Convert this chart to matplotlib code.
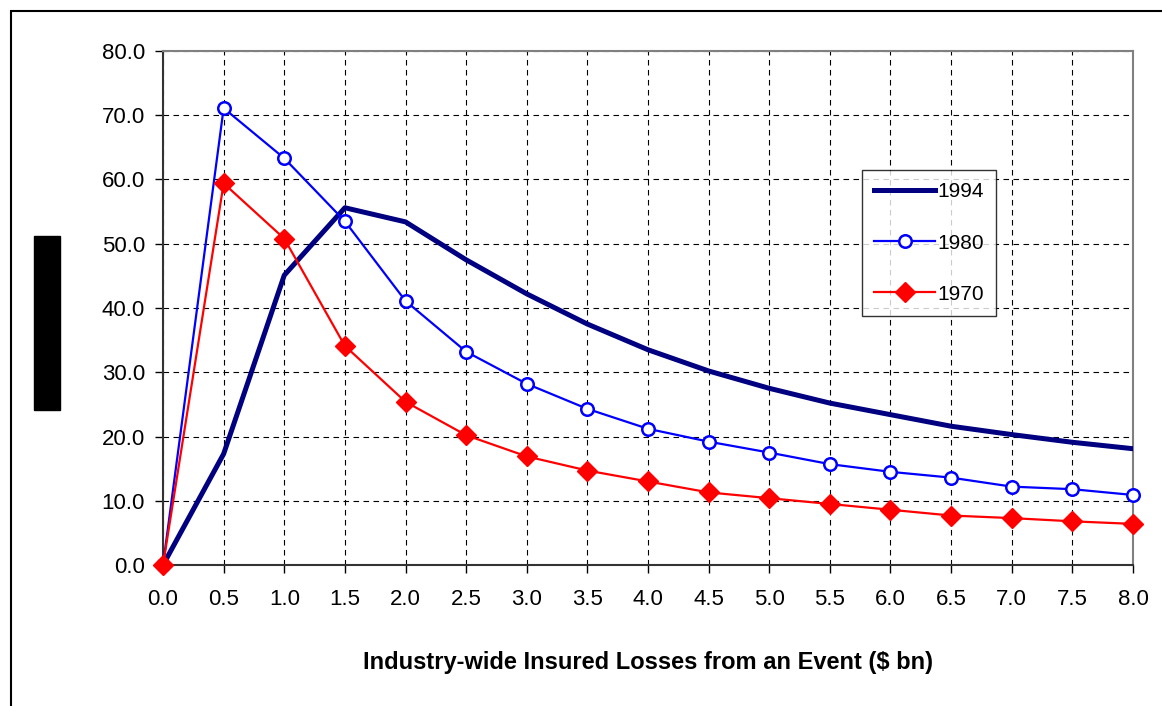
import matplotlib.pyplot as plt
from matplotlib.patches import Rectangle

# data
losses = [0.0, 0.5, 1.0, 1.5, 2.0, 2.5, 3.0, 3.5, 4.0, 4.5, 5.0, 5.5, 6.0, 6.5, 7.0, 7.5, 8.0]
y1994 = [0.0, 17.3, 45.1, 55.6, 53.4, 47.5, 42.2, 37.5, 33.5, 30.2, 27.5, 25.2, 23.4, 21.6, 20.3, 19.1, 18.1]
y1980 = [0.0, 71.1, 63.3, 53.5, 41.1, 33.2, 28.2, 24.3, 21.2, 19.2, 17.5, 15.7, 14.5, 13.6, 12.2, 11.8, 10.9]
y1970 = [0.0, 59.4, 50.8, 34.1, 25.4, 20.2, 16.9, 14.7, 13.0, 11.3, 10.4, 9.5, 8.6, 7.7, 7.3, 6.8, 6.4]
xticks = losses
yticks = [0, 10, 20, 30, 40, 50, 60, 70, 80]

plt.rcParams['font.family'] = ['Liberation Sans', 'DejaVu Sans']

fig = plt.figure(figsize=(11.62, 7.06), dpi=100)
ax = fig.add_axes([0.1403, 0.1997, 0.8347, 0.7281])

ax.plot(losses, y1994, color='#000080', lw=3.6, label='1994', zorder=3)
ax.plot(losses, y1980, color='#0000ff', lw=1.6, marker='o', ms=9,
        mfc='white', mec='#0000ff', mew=1.8, label='1980', zorder=4, clip_on=False)
ax.plot(losses, y1970, color='#ff0000', lw=1.6, marker='D', ms=10,
        mfc='#ff0000', mec='#ff0000', label='1970', zorder=5, clip_on=False)

ax.set_xlim(0, 8)
ax.set_ylim(0, 80)
ax.set_xticks(xticks)
ax.set_xticklabels(['%.1f' % v for v in xticks])
ax.set_yticks(yticks)
ax.set_yticklabels(['%.1f' % v for v in yticks])
ax.tick_params(direction='out', length=6, width=1, labelsize=16, colors='black')
ax.tick_params(axis='x', pad=11)
ax.tick_params(axis='y', pad=7)
ax.grid(True, color='black', ls=(0, (5, 4)), lw=0.8)
ax.set_axisbelow(True)

for s in ['top', 'right']:
    ax.spines[s].set_color('#808080')
    ax.spines[s].set_linewidth(1.5)
for s in ['left', 'bottom']:
    ax.spines[s].set_color('#333333')
    ax.spines[s].set_linewidth(1.5)

ax.set_xlabel('Industry-wide Insured Losses from an Event ($ bn)',
              fontsize=17, fontweight='bold', labelpad=30)

leg = ax.legend(loc='upper left', bbox_to_anchor=(0.7206, 0.7685), fontsize=15,
                frameon=True, fancybox=False, edgecolor='black', handlelength=2.9,
                labelspacing=1.54, borderpad=0.6, handletextpad=0.1,
                borderaxespad=0)
leg.get_frame().set_linewidth(1.0)

# outer border and redacted label block
fig.patches.append(Rectangle((11 / 1162, -0.05), 1.2, 1 - 11 / 706 + 0.05,
                             transform=fig.transFigure, fill=False,
                             edgecolor='black', lw=1.5))
fig.patches.append(Rectangle((34 / 1162, 1 - 410 / 706), 26 / 1162, 174 / 706,
                             transform=fig.transFigure, color='black'))

plt.savefig('out.png', dpi=100)
